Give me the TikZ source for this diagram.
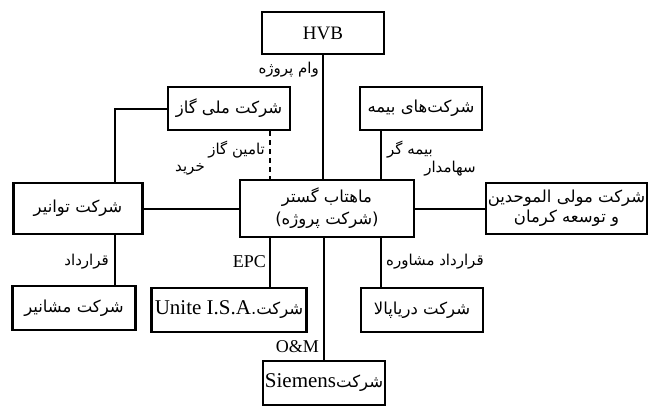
\documentclass[tikz,border=0pt]{standalone}
\usepackage{fontspec}
\setmainfont{Liberation Serif}
\newfontfamily\arabicfont[Script=Arabic]{DejaVu Sans}
\TeXXeTstate=1
\newcommand{\fa}[1]{{\arabicfont\beginR #1\endR}}
\begin{document}
\begin{tikzpicture}[x=1pt,y=-1pt,
  box/.style={draw,line width=2.4pt,minimum width=#1,inner sep=2pt,align=center,font=\fontsize{16.5}{20}\selectfont},
  box/.default=122pt,
  lbl/.style={inner sep=1pt,font=\fontsize{15}{18}\selectfont},
  conn/.style={line width=2pt}]
\useasboundingbox (0,0) rectangle (648,408);
\node[box, minimum height=42pt] (hvb) at (323,33) {\fontsize{19}{22}\selectfont HVB};
\node[box, minimum height=43pt] (gas) at (229,108.5) {\fa{شرکت ملی گاز}};
\node[box, minimum height=43pt] (ins) at (421,108.5) {\fa{شرکت‌های بیمه}};
\node[box=129pt, minimum height=51pt] (tav) at (78,208.5) {\fa{شرکت توانیر}};
\node[box=174pt, minimum height=57pt] (ctr) at (327,208.5) {\fa{ماهتاب گستر}\\[2pt]\fa{(شرکت پروژه)}};
\node[box=155pt, minimum height=51pt] (mow) at (566.5,208.5) {\fa{شرکت مولی الموحدین}\\\fa{و توسعه کرمان}};
\node[box=123pt, minimum height=44pt] (mas) at (74,308) {\fa{شرکت مشانیر}};
\node[box=155pt, minimum height=44pt] (uni) at (229,310) {\fa{شرکت.\beginL{\rmfamily\fontsize{21}{24}\selectfont Unite I.S.A}\endL}};
\node[box=122pt, minimum height=44pt] (dar) at (422,310) {\fa{شرکت دریاپالا}};
\node[box=122pt, minimum height=44pt] (sie) at (324,383) {\fa{شرکت\beginL{\rmfamily\fontsize{21}{24}\selectfont Siemens}\endL}};
% connectors
\draw[conn] (hvb.south) -- (hvb.south |- ctr.north);
\draw[conn] (gas.west) -| ([xshift=37pt]tav.north);
\draw[conn,dash pattern=on 5pt off 4pt] ([xshift=41pt]gas.south) -- ([xshift=41pt]gas.south |- ctr.north);
\draw[conn] ([xshift=-40pt]ins.south) -- ([xshift=-40pt]ins.south |- ctr.north);
\draw[conn] (tav.east) -- (ctr.west);
\draw[conn] (ctr.east) -- (mow.west);
\draw[conn] ([xshift=41pt]uni.north) -- ([xshift=41pt]uni.north |- ctr.south);
\draw[conn] (sie.north) -- (sie.north |- ctr.south);
\draw[conn] ([xshift=-41pt]dar.north) -- ([xshift=-41pt]dar.north |- ctr.south);
\draw[conn] ([xshift=41pt]mas.north) -- ([xshift=41pt]mas.north |- tav.south);
% labels
\node[lbl,anchor=east] (l1) at (320,70) {\fa{وام پروژه}};
\node[lbl,anchor=east] (l2) at (266,150) {\fa{تامین گاز}};
\node[lbl,anchor=west] (l3) at (386,150) {\fa{بیمه گر}};
\node[lbl] (l4) at (190,169) {\fa{خرید}};
\node[lbl] (l5) at (450,169) {\fa{سهامدار}};
\node[lbl,anchor=east] (l6) at (110,262) {\fa{قرارداد}};
\node[lbl,anchor=east] (l7) at (267,262) {\fontsize{18}{20}\selectfont EPC};
\node[lbl,anchor=west] (l8) at (385,262) {\fa{قرارداد مشاوره}};
\node[lbl,anchor=east] (l9) at (320,347) {\fontsize{18}{20}\selectfont O\&M};
\end{tikzpicture}
\end{document}
